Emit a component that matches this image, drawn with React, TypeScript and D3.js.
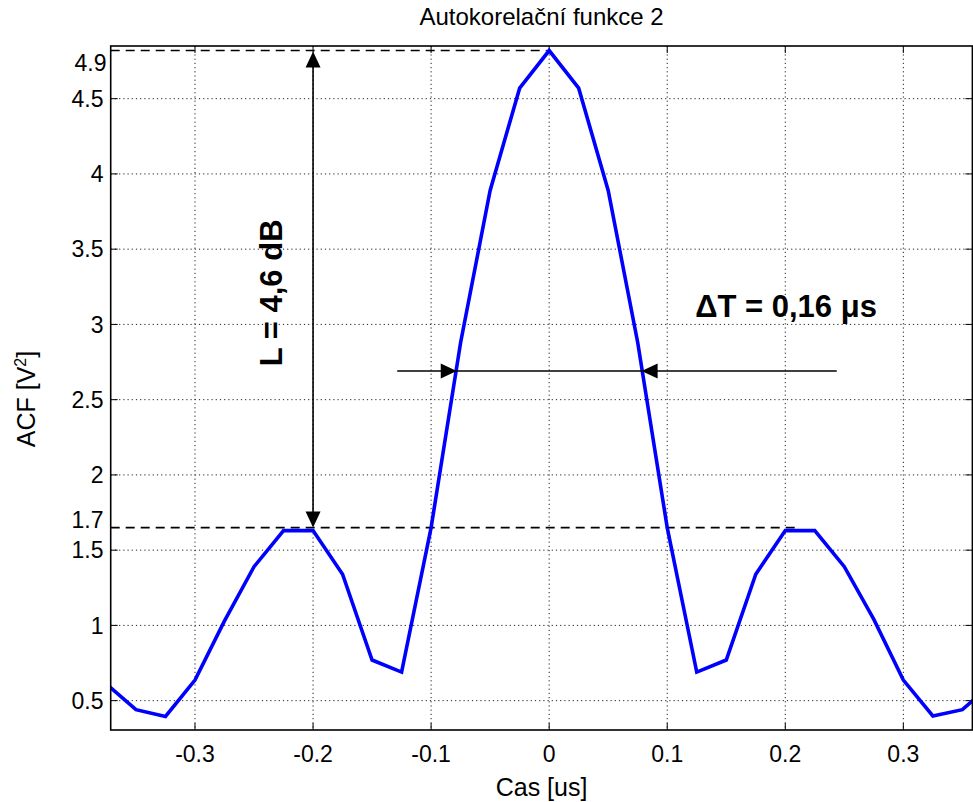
import React from 'react';
import * as d3 from 'd3';

// ---- data ----
const times: number[] = [
  -0.375, -0.35, -0.325, -0.3, -0.275, -0.25, -0.225, -0.2, -0.175, -0.15, -0.125, -0.1, -0.075, -0.05, -0.025,
  0,
  0.025, 0.05, 0.075, 0.1, 0.125, 0.15, 0.175, 0.2, 0.225, 0.25, 0.275, 0.3, 0.325, 0.35, 0.375,
];
const acfValues: number[] = [
  0.61, 0.44, 0.395, 0.637, 1.03, 1.39, 1.63, 1.63, 1.34, 0.77, 0.69, 1.65, 2.88, 3.89, 4.57,
  4.82,
  4.57, 3.89, 2.88, 1.65, 0.69, 0.77, 1.34, 1.63, 1.63, 1.39, 1.04, 0.637, 0.398, 0.44, 0.61,
];
const xTickValues: number[] = [-0.3, -0.2, -0.1, 0, 0.1, 0.2, 0.3];
const yTickValues: number[] = [0.5, 1, 1.5, 2, 2.5, 3, 3.5, 4, 4.5];
const peakLabel = '4.9';
const sideLobeLabel = '1.7';
const sideLobeLevel = 1.65;
const peakLevel = 4.82;
const halfWidthLevel = 2.69;
const halfWidthTips: number[] = [-0.0783, 0.0783];
const titleText = 'Autokorelační funkce 2';
const xLabelText = 'Cas [us]';
const yLabelText = 'ACF [V';
const dtText = 'ΔT = 0,16 μs';
const lText = 'L = 4,6 dB';

const FONT = "'Liberation Sans', Arial, Helvetica, sans-serif";

function arrowHead(tx: number, ty: number, dx: number, dy: number, len = 16, hw = 7.5): string {
  // dx,dy: unit direction the arrow points to
  const bx = tx - dx * len;
  const by = ty - dy * len;
  const px = -dy, py = dx;
  return `M${tx},${ty}L${bx + px * hw},${by + py * hw}L${bx - px * hw},${by - py * hw}Z`;
}

export default function App() {
  const W = 973, H = 802;
  const left = 110.7, right = 972.4, top = 46, bottom = 730;
  const x = d3.scaleLinear().domain([-0.3714, 0.3585]).range([left, right]);
  const y = d3.scaleLinear().domain([0.305, 4.85]).range([bottom, top]);

  const pts: [number, number][] = times.map((t, i) => [t, acfValues[i]]);
  const line = d3.line<[number, number]>().x(d => x(d[0])).y(d => y(d[1]));

  const tickLen = 7;
  const gridStyle = { stroke: '#222', strokeWidth: 1, strokeDasharray: '1.2,3' };

  const vArrowX = x(-0.2);
  const hY = y(halfWidthLevel);

  return (
    <svg width={W} height={H} style={{ position: 'absolute', left: 0, top: 0, background: '#fff' }} fontFamily={FONT}>
      <defs>
        <clipPath id="plotClip">
          <rect x={left} y={top} width={right - left} height={bottom - top} />
        </clipPath>
      </defs>
      <rect x={0} y={0} width={W} height={H} fill="#fff" />

      {/* grid */}
      {xTickValues.map(v => (
        <line key={'gx' + v} x1={x(v)} x2={x(v)} y1={top} y2={bottom} {...gridStyle} />
      ))}
      {yTickValues.map(v => (
        <line key={'gy' + v} x1={left} x2={right} y1={y(v)} y2={y(v)} {...gridStyle} />
      ))}

      {/* ticks */}
      {xTickValues.map(v => (
        <g key={'tx' + v}>
          <line x1={x(v)} x2={x(v)} y1={bottom} y2={bottom - tickLen} stroke="#000" strokeWidth={1} />
          <line x1={x(v)} x2={x(v)} y1={top} y2={top + tickLen} stroke="#000" strokeWidth={1} />
          <text x={x(v)} y={762} textAnchor="middle" fontSize={23} fill="#000">{String(v)}</text>
        </g>
      ))}
      {yTickValues.map(v => (
        <g key={'ty' + v}>
          <line x1={left} x2={left + tickLen} y1={y(v)} y2={y(v)} stroke="#000" strokeWidth={1} />
          <line x1={right} x2={right - tickLen} y1={y(v)} y2={y(v)} stroke="#000" strokeWidth={1} />
          <text x={103.5} y={y(v)} dy="0.36em" textAnchor="end" fontSize={23} fill="#000">{String(v)}</text>
        </g>
      ))}
      <text x={106.5} y={y(peakLevel) + 12.5} dy="0.36em" textAnchor="end" fontSize={23} fill="#000">{peakLabel}</text>
      <text x={103.5} y={y(1.7)} dy="0.36em" textAnchor="end" fontSize={23} fill="#000">{sideLobeLabel}</text>

      {/* dashed annotation lines */}
      <line x1={left} x2={x(-0.002)} y1={y(peakLevel)} y2={y(peakLevel)} stroke="#000" strokeWidth={1.6} strokeDasharray="9,6" />
      <line x1={left} x2={x(0.2097)} y1={y(sideLobeLevel)} y2={y(sideLobeLevel)} stroke="#000" strokeWidth={1.6} strokeDasharray="9,6" />

      {/* data line */}
      <path d={line(pts) || ''} fill="none" stroke="#0000ff" strokeWidth={3.6} strokeLinejoin="miter" clipPath="url(#plotClip)" />

      {/* vertical double arrow */}
      <line x1={vArrowX} x2={vArrowX} y1={y(peakLevel) + 10} y2={y(sideLobeLevel) - 10} stroke="#000" strokeWidth={1.6} />
      <path d={arrowHead(vArrowX, y(peakLevel) + 1, 0, -1)} fill="#000" />
      <path d={arrowHead(vArrowX, y(sideLobeLevel), 0, 1)} fill="#000" />

      {/* horizontal arrows */}
      <line x1={x(-0.1287)} x2={x(0.2436)} y1={hY} y2={hY} stroke="#000" strokeWidth={1.6} />
      <path d={arrowHead(x(halfWidthTips[0]), hY, 1, 0)} fill="#000" />
      <path d={arrowHead(x(halfWidthTips[1]), hY, -1, 0)} fill="#000" />

      {/* annotation texts */}
      <text x={x(0.1237)} y={y(3.05)} fontSize={31} fontWeight="bold" fill="#000">{dtText}</text>
      <text transform={`translate(${x(-0.2266)},${y(3.21)}) rotate(-90)`} textAnchor="middle" fontSize={31} fontWeight="bold" fill="#000">{lText}</text>

      {/* axes box */}
      <rect x={left} y={top} width={right - left} height={bottom - top} fill="none" stroke="#000" strokeWidth={1.6} />

      {/* title and labels */}
      <text x={(left + right) / 2} y={25} textAnchor="middle" fontSize={24} fill="#000">{titleText}</text>
      <text x={(left + right) / 2} y={796} textAnchor="middle" fontSize={25} fill="#000">{xLabelText}</text>
      <text transform={`translate(35,399) rotate(-90)`} textAnchor="middle" fontSize={25} fill="#000">
        {yLabelText}
        <tspan dy={-9} fontSize={16}>2</tspan>
        <tspan dy={9}>]</tspan>
      </text>
    </svg>
  );
}
